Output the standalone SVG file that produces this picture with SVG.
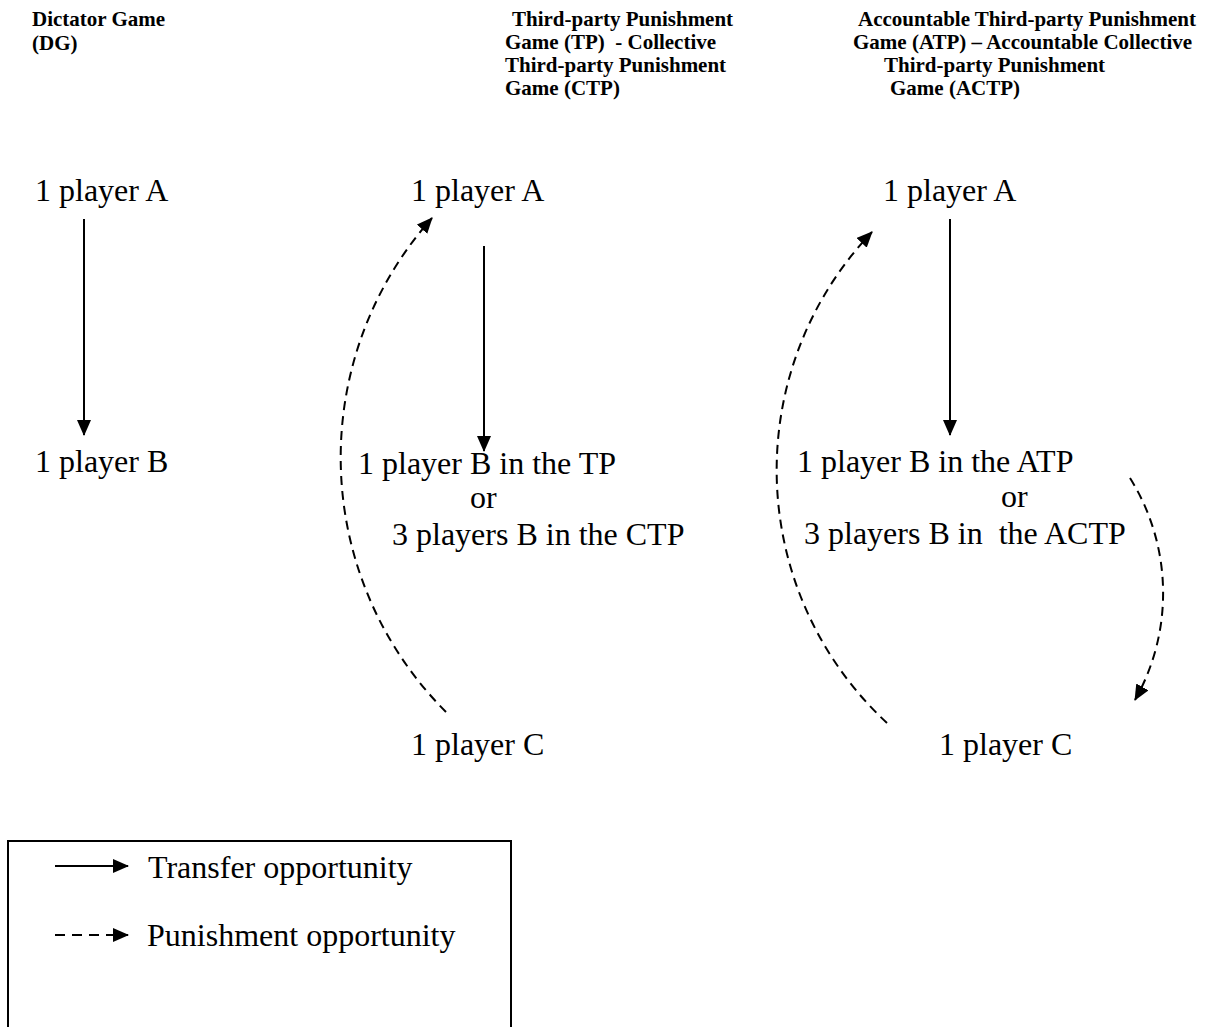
<svg xmlns="http://www.w3.org/2000/svg" width="1208" height="1027" viewBox="0 0 1208 1027">
<style>
.h{font-family:"Liberation Serif","Times New Roman",serif;font-weight:bold;font-size:21px;fill:#000;white-space:pre}
.t{font-family:"Liberation Serif","Times New Roman",serif;font-size:32px;fill:#000;white-space:pre}
.sol{stroke:#000;stroke-width:2;fill:none}
.dash{stroke:#000;stroke-width:2;fill:none;stroke-dasharray:9 6}
</style>
<defs>
<marker id="ah" markerWidth="16" markerHeight="14" refX="15" refY="7" orient="auto" markerUnits="userSpaceOnUse"><path d="M0,0 L16,7 L0,14 z" fill="#000"/></marker>
</defs>
<rect width="1208" height="1027" fill="#fff"/>
<g id="headers">
<text class="h" x="32" y="26">Dictator Game</text>
<text class="h" x="32" y="50">(DG)</text>
<text class="h" x="512" y="26">Third-party Punishment</text>
<text class="h" x="505" y="49">Game (TP)  - Collective</text>
<text class="h" x="505" y="72">Third-party Punishment</text>
<text class="h" x="505" y="95">Game (CTP)</text>
<text class="h" x="858" y="26">Accountable Third-party Punishment</text>
<text class="h" x="853" y="49">Game (ATP) – Accountable Collective</text>
<text class="h" x="884" y="72">Third-party Punishment</text>
<text class="h" x="890" y="95">Game (ACTP)</text>
</g>
<g id="dg-a"><text class="t" x="35" y="201">1 player A</text></g>
<g id="dg-b"><text class="t" x="35" y="472">1 player B</text></g>
<g id="tp-a"><text class="t" x="411" y="201">1 player A</text></g>
<g id="tp-b"><text class="t" x="358" y="474">1 player B in the TP</text><text class="t" x="470" y="508">or</text><text class="t" x="392" y="545">3 players B in the CTP</text></g>
<g id="tp-c"><text class="t" x="411" y="755">1 player C</text></g>
<g id="atp-a"><text class="t" x="883" y="201">1 player A</text></g>
<g id="atp-b"><text class="t" x="797" y="472">1 player B in the ATP</text><text class="t" x="1001" y="507">or</text><text class="t" x="804" y="544">3 players B in  the ACTP</text></g>
<g id="atp-c"><text class="t" x="939" y="755">1 player C</text></g>
<g id="connectors">
<line class="sol" x1="84" y1="219" x2="84" y2="435" marker-end="url(#ah)"/>
<line class="sol" x1="484" y1="246" x2="484" y2="451" marker-end="url(#ah)"/>
<line class="sol" x1="950" y1="219" x2="950" y2="435" marker-end="url(#ah)"/>
<path class="dash" d="M446,712 A360,360 0 0 1 432,218" marker-end="url(#ah)"/>
<path class="dash" d="M887,723 A345,345 0 0 1 872,232" marker-end="url(#ah)"/>
<path class="dash" d="M1130,478 A217,217 0 0 1 1135,700" marker-end="url(#ah)"/>
</g>
<g id="legend">
<rect x="8" y="841" width="503" height="220" fill="none" stroke="#000" stroke-width="2"/>
<line class="sol" x1="55" y1="866" x2="128" y2="866" marker-end="url(#ah)"/>
<line x1="55" y1="935" x2="128" y2="935" stroke="#000" stroke-width="2" stroke-dasharray="10 7" marker-end="url(#ah)"/>
<text class="t" x="148" y="878">Transfer opportunity</text>
<text class="t" x="147" y="946">Punishment opportunity</text>
</g>
</svg>
